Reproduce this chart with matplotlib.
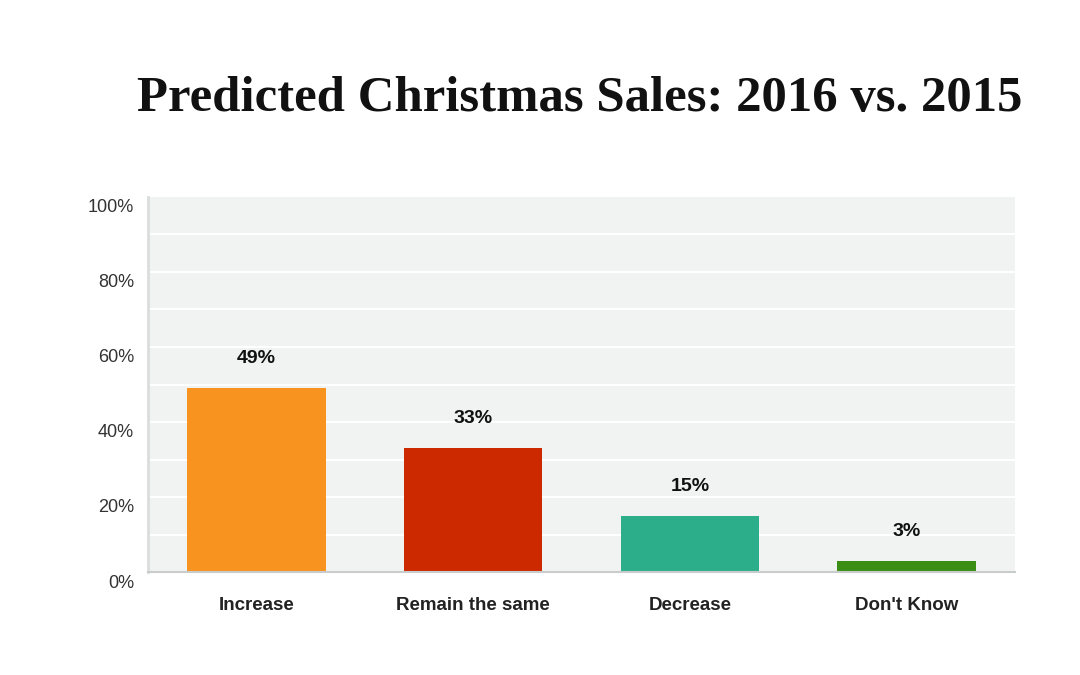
import matplotlib
matplotlib.use("Agg")
import matplotlib.pyplot as plt
import matplotlib.transforms as mtransforms

categories = ["Increase", "Remain the same", "Decrease", "Don't Know"]
values = [49, 33, 15, 3]
colors = ["#F7931E", "#CC2900", "#2DAE8A", "#3A8E14"]
yticks = [0, 20, 40, 60, 80, 100]

fig = plt.figure(figsize=(10.8, 6.75), dpi=100)
ax = fig.add_axes([148 / 1080, 1 - 572 / 675, 867 / 1080, 375 / 675])
ax.set_facecolor("#F1F3F3")

x = range(len(categories))
ax.bar(x, values, width=0.64, color=colors, zorder=3)
for xi, v in zip(x, values):
    ax.annotate(f"{v}%", (xi, v), xytext=(0, 15), textcoords="offset points",
                ha="center", va="bottom", fontsize=14, fontweight="bold",
                color="#111111", family="Liberation Sans")

ax.set_xlim(-0.5, 3.5)
ax.set_ylim(0, 100)

# white gridlines every 10%
for g in range(10, 100, 10):
    ax.axhline(g, color="white", lw=1.5, zorder=1)

ax.set_yticks(yticks)
ax.set_yticklabels([f"{t}%" for t in yticks], fontsize=13,
                   color="#333333", family="Liberation Sans")
ax.tick_params(axis="y", length=0, pad=10)
offset = mtransforms.ScaledTranslation(0, -9 / 100, fig.dpi_scale_trans)
for lbl in ax.get_yticklabels():
    lbl.set_transform(lbl.get_transform() + offset)

ax.set_xticks(list(x))
ax.set_xticklabels(categories, fontsize=13.5, fontweight="bold",
                   color="#222222", family="Liberation Sans")
ax.tick_params(axis="x", length=0, pad=18)

for side in ["top", "right"]:
    ax.spines[side].set_visible(False)
ax.spines["left"].set_color("#DADDDD")
ax.spines["left"].set_linewidth(2)
ax.spines["bottom"].set_color("#C8CCCC")
ax.spines["bottom"].set_linewidth(1.5)
ax.spines["bottom"].set_zorder(4)

title = fig.text(0.537, 0.853, "Predicted Christmas Sales: 2016 vs. 2015",
                 ha="center", va="center", fontsize=34, fontweight="bold",
                 family="Liberation Serif", color="#111111")
# fit the title to the reference width (~885 px)
fig.canvas.draw()
w = title.get_window_extent().width
title.set_fontsize(34 * 885 / w)

fig.savefig("out.png", dpi=100)
